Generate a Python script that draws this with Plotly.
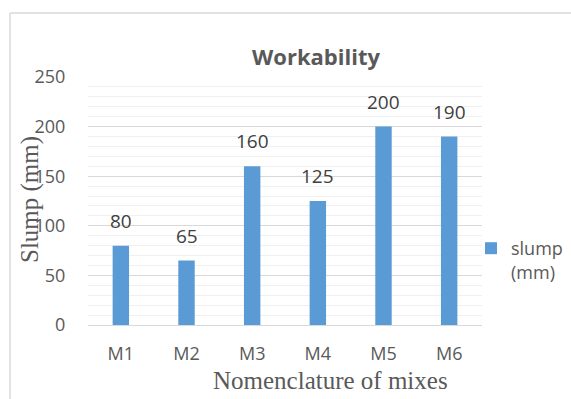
import plotly.graph_objects as go

mixes = ["M1", "M2", "M3", "M4", "M5", "M6"]
slump = [80, 65, 160, 125, 200, 190]
series_name = "slump<br>(mm)"

W, H = 571, 399
L, R, T, B = 88, 89, 77, 74
pw, ph = W - L - R, H - T - B

def px(x):
    return (x - L) / pw

def py(y):
    return (H - B - y) / ph

fig = go.Figure()
fig.add_trace(go.Bar(
    x=mixes, y=slump, name=series_name,
    marker=dict(color="#5b9bd5", line=dict(width=0)),
    width=0.25, showlegend=True,
))
for m, v in zip(mixes, slump):
    fig.add_annotation(x=m, y=v, text=str(v), showarrow=False, yanchor="bottom", yshift=10,
                       font=dict(family="Open Sans", size=19, color="#404040"))

fig.update_layout(
    width=W, height=H,
    margin=dict(l=L, r=R, t=T, b=B, autoexpand=False),
    paper_bgcolor="white", plot_bgcolor="white",
    title=dict(text="<b>Workability</b>", x=px(316), xanchor="center", xref="paper",
               y=1 - 57 / H, yanchor="middle",
               font=dict(family="Open Sans", size=22, color="#595959")),
    showlegend=True,
    legend=dict(x=px(471), xanchor="left", y=py(230), yanchor="top", valign="top",
                font=dict(family="Open Sans", size=18, color="#595959"),
                itemwidth=30, bgcolor="rgba(0,0,0,0)"),
    bargap=0.75,
)
fig.update_yaxes(
    range=[0, 250], tickvals=[0, 50, 100, 150, 200, 250],
    showgrid=True, gridcolor="#d9d9d9", gridwidth=1,
    minor=dict(dtick=10, showgrid=True, gridcolor="#f0f0f0", gridwidth=1),
    zeroline=False, showline=False, automargin=False,
    ticks="outside", ticklen=18, tickcolor="rgba(0,0,0,0)",
    tickfont=dict(family="Open Sans", size=18, color="#595959"),
)
fig.update_xaxes(
    showgrid=False, showline=True, linecolor="#d9d9d9", linewidth=1, automargin=False,
    ticks="outside", ticklen=12, tickcolor="rgba(0,0,0,0)",
    tickfont=dict(family="Open Sans", size=18, color="#595959"),
)
fig.add_annotation(text="Slump (mm)", textangle=-90, xref="paper", yref="paper",
                   x=px(30), y=py(200), xanchor="center", yanchor="middle", showarrow=False,
                   font=dict(family="Liberation Serif", size=25, color="#595959"))
fig.add_annotation(text="Nomenclature of mixes", xref="paper", yref="paper",
                   x=px(330), y=py(380), xanchor="center", yanchor="middle", showarrow=False,
                   font=dict(family="Liberation Serif", size=25, color="#595959"))
# outer chart border
fig.add_shape(type="line", xref="paper", yref="paper", x0=px(10), x1=px(575), y0=py(13), y1=py(13),
              line=dict(color="#d9d9d9", width=1.5))
fig.add_shape(type="line", xref="paper", yref="paper", x0=px(10), x1=px(10), y0=py(13), y1=py(405),
              line=dict(color="#d9d9d9", width=1.5))

fig.write_html("out.html", config={"displayModeBar": False},
               post_script="document.body.style.margin='0px';")
